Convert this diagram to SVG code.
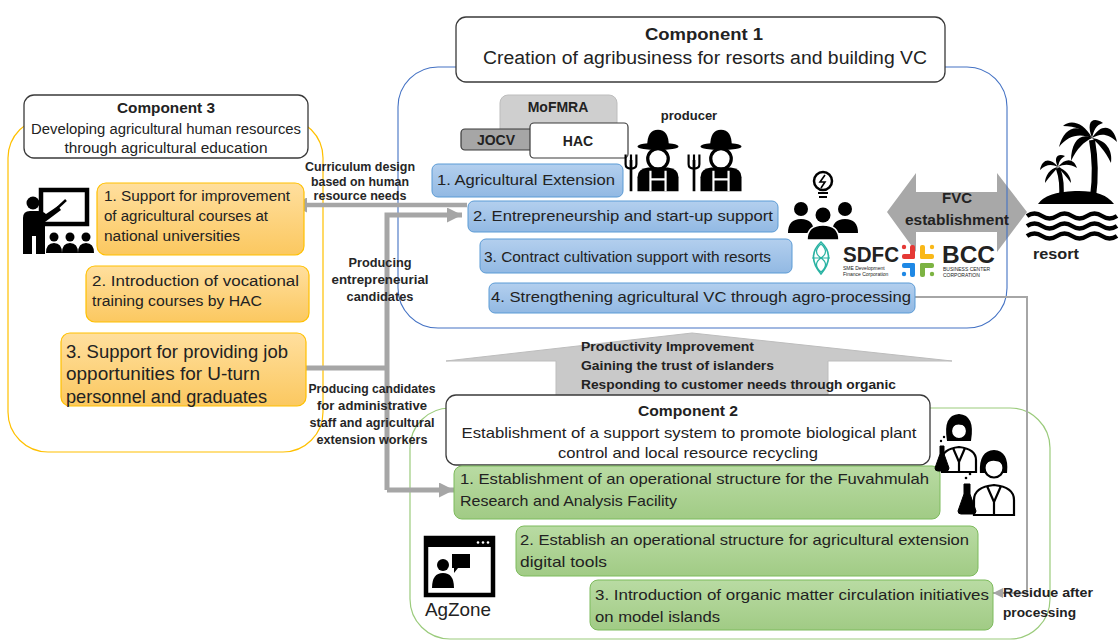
<svg xmlns="http://www.w3.org/2000/svg" width="1119" height="642" viewBox="0 0 1119 642">
  <defs>
    <linearGradient id="gOr" x1="0" y1="0" x2="0" y2="1">
      <stop offset="0" stop-color="#FFDF9E"/>
      <stop offset="1" stop-color="#FBC860"/>
    </linearGradient>
    <linearGradient id="gBl" x1="0" y1="0" x2="0" y2="1">
      <stop offset="0" stop-color="#B3CFEE"/>
      <stop offset="1" stop-color="#92B9E3"/>
    </linearGradient>
    <linearGradient id="gGr" x1="0" y1="0" x2="0" y2="1">
      <stop offset="0" stop-color="#B9DBA3"/>
      <stop offset="1" stop-color="#A1CB85"/>
    </linearGradient>
    <marker id="ahBig" markerUnits="userSpaceOnUse" markerWidth="15" markerHeight="15" viewBox="0 0 15 15" refX="15" refY="7.5" orient="auto">
      <path d="M0,0 L15,7.5 L0,15 Z" fill="#A6A6A6"/>
    </marker>
    <marker id="ahSmall" markerUnits="userSpaceOnUse" markerWidth="10" markerHeight="10" viewBox="0 0 10 10" refX="10" refY="5" orient="auto">
      <path d="M0,0 L10,5 L0,10 Z" fill="#A6A6A6"/>
    </marker>
    <!-- farmer with hat and pitchfork, centred on its own origin -->
    <g id="farmer">
      <path d="M-10,-14 Q-10,-29 0,-29 Q10,-29 10,-14 Z" fill="#000"/>
      <ellipse cx="0" cy="-13.5" rx="19" ry="3.5" fill="#000"/>
      <circle cx="0" cy="-2" r="9.5" fill="#fff" stroke="#000" stroke-width="3"/>
      <path d="M-19,28 V15 Q-19,7 -9,6 L9,6 Q19,7 19,15 V28 Z" fill="#000"/>
      <path d="M-7,9 V28 M7,9 V28 M-7,17 H7" stroke="#fff" stroke-width="2" fill="none"/>
      <path d="M-25,-1 V28" stroke="#000" stroke-width="2.5"/>
      <path d="M-30,-6 V3 Q-30,7 -25,7 Q-20,7 -20,3 V-6 M-25,-6 V7" stroke="#000" stroke-width="2" fill="none"/>
    </g>
  </defs>

  <style>
    text { font-family: "Liberation Sans", Arial, sans-serif; fill: #222; }
    .b { font-weight: bold; }
    .hdr { fill: #fff; stroke: #3A3A3A; stroke-width: 1.3; }
    .or { fill: url(#gOr); stroke: #FFC000; stroke-width: 1.2; }
    .bl { fill: url(#gBl); stroke: #5B9BD5; stroke-width: 1; }
    .gr { fill: url(#gGr); stroke: #7DBB5C; stroke-width: 1; }
    .conn { fill: none; stroke: #A6A6A6; }
    .lbl { font-weight: bold; font-size: 12.5px; text-anchor: middle; fill: #262626; }
  </style>

  <rect width="1119" height="642" fill="#fff"/>

  <!-- broad arrows behind the components -->
  <g id="big-arrows">
    <polygon points="556,402 556,361 446,361 692,333 952,361 828,361 828,402" fill="#C9C9C9" stroke="#BDBDBD" stroke-width="1"/>
    <polygon points="887,212 916,173 916,192 997,192 997,173 1027,212 997,252 997,232 916,232 916,252" fill="#A8A8A8"/>
  </g>

  <!-- component frames -->
  <g id="frames">
    <rect x="8" y="118" width="315" height="334" rx="40" fill="none" stroke="#FFC000" stroke-width="1.2"/>
    <rect x="398" y="67" width="609" height="261" rx="40" fill="none" stroke="#4472C4" stroke-width="1.1"/>
    <rect x="410" y="408" width="640" height="231" rx="40" fill="none" stroke="#9BCB7C" stroke-width="1.2"/>
  </g>

  <!-- connectors -->
  <g id="connectors">
    <path class="conn" d="M467,205 H292" stroke-width="4.5" marker-end="url(#ahBig)"/>
    <path class="conn" d="M305,368 H387" stroke-width="5"/>
    <path class="conn" d="M387,490 V215 H462" stroke-width="5" marker-end="url(#ahBig)"/>
    <path class="conn" d="M387,490 H454" stroke-width="5" marker-end="url(#ahBig)"/>
    <path class="conn" d="M915,297 H1027 V593 H993" stroke-width="2" marker-end="url(#ahSmall)"/>
  </g>

  <!-- connector labels -->
  <g id="connector-labels">
    <text class="lbl" x="360" y="171" textLength="110" lengthAdjust="spacingAndGlyphs">Curriculum design</text>
    <text class="lbl" x="360" y="186" textLength="98" lengthAdjust="spacingAndGlyphs">based on human</text>
    <text class="lbl" x="360" y="200" textLength="93" lengthAdjust="spacingAndGlyphs">resource needs</text>
    <text class="lbl" x="380" y="267" textLength="63" lengthAdjust="spacingAndGlyphs">Producing</text>
    <text class="lbl" x="380" y="284" textLength="97" lengthAdjust="spacingAndGlyphs">entrepreneurial</text>
    <text class="lbl" x="380" y="301" textLength="67" lengthAdjust="spacingAndGlyphs">candidates</text>
    <text class="lbl" x="372" y="393" textLength="127" lengthAdjust="spacingAndGlyphs">Producing candidates</text>
    <text class="lbl" x="372" y="410" textLength="110" lengthAdjust="spacingAndGlyphs">for administrative</text>
    <text class="lbl" x="372" y="427" textLength="125" lengthAdjust="spacingAndGlyphs">staff and agricultural</text>
    <text class="lbl" x="372" y="444" textLength="111" lengthAdjust="spacingAndGlyphs">extension workers</text>
    <text class="b" x="581" y="351" font-size="13.5" textLength="173" lengthAdjust="spacingAndGlyphs">Productivity Improvement</text>
    <text class="b" x="581" y="370" font-size="13.5" textLength="193" lengthAdjust="spacingAndGlyphs">Gaining the trust of islanders</text>
    <text class="b" x="581" y="389" font-size="13.5" textLength="315" lengthAdjust="spacingAndGlyphs">Responding to customer needs through organic</text>
    <text class="b" x="957" y="203" font-size="15" text-anchor="middle">FVC</text>
    <text class="b" x="957" y="225" font-size="15" text-anchor="middle" textLength="104" lengthAdjust="spacingAndGlyphs">establishment</text>
    <text class="b" x="1003" y="597" font-size="13.5" textLength="90" lengthAdjust="spacingAndGlyphs">Residue after</text>
    <text class="b" x="1003" y="617" font-size="13.5" textLength="73" lengthAdjust="spacingAndGlyphs">processing</text>
  </g>

  <!-- Component 3 -->
  <g id="component3">
    <rect class="hdr" x="24" y="95" width="284" height="63" rx="10"/>
    <text class="b" x="166" y="113" font-size="15" text-anchor="middle" textLength="98" lengthAdjust="spacingAndGlyphs">Component 3</text>
    <text x="166" y="134" font-size="14" text-anchor="middle" textLength="270" lengthAdjust="spacingAndGlyphs">Developing agricultural human resources</text>
    <text x="166" y="153" font-size="14" text-anchor="middle" textLength="203" lengthAdjust="spacingAndGlyphs">through agricultural education</text>
  </g>
  <g id="c3-item1">
    <rect class="or" x="97" y="183" width="207" height="72" rx="9"/>
    <text x="104" y="201" font-size="15.5" textLength="186" lengthAdjust="spacingAndGlyphs">1. Support for improvement</text>
    <text x="104" y="221" font-size="15.5" textLength="164" lengthAdjust="spacingAndGlyphs">of agricultural courses at</text>
    <text x="104" y="241" font-size="15.5" textLength="136" lengthAdjust="spacingAndGlyphs">national universities</text>
  </g>
  <g id="c3-item2">
    <rect class="or" x="86" y="266" width="223" height="56" rx="9"/>
    <text x="92" y="286" font-size="15.5" textLength="207" lengthAdjust="spacingAndGlyphs">2. Introduction of vocational</text>
    <text x="92" y="306" font-size="15.5" textLength="170" lengthAdjust="spacingAndGlyphs">training courses by HAC</text>
  </g>
  <g id="c3-item3">
    <rect class="or" x="61" y="333" width="245" height="73" rx="9"/>
    <text x="66" y="358" font-size="19" textLength="222" lengthAdjust="spacingAndGlyphs">3. Support for providing job</text>
    <text x="66" y="380" font-size="19" textLength="194" lengthAdjust="spacingAndGlyphs">opportunities for U-turn</text>
    <text x="66" y="403" font-size="19" textLength="201" lengthAdjust="spacingAndGlyphs">personnel and graduates</text>
  </g>
  <!-- teacher at a board with three students -->
  <g id="teacher-icon" fill="#000">
    <rect x="41" y="190" width="46" height="34" fill="none" stroke="#000" stroke-width="4.5"/>
    <circle cx="33" cy="203" r="6.5"/>
    <path d="M23,254 V218 Q23,211 30,211 L38,211 Q43,211 46,214 L58,206 L61,210 L45,222 V254 H36 V236 H32 V254 Z"/>
    <path d="M52,213 L66,200" stroke="#000" stroke-width="2.5"/>
    <circle cx="54" cy="237" r="4.5"/>
    <circle cx="70" cy="237" r="4.5"/>
    <circle cx="86" cy="237" r="4.5"/>
    <path d="M46,253 Q46,243 54,243 Q62,243 62,253 Z M62,253 Q62,243 70,243 Q78,243 78,253 Z M78,253 Q78,243 86,243 Q94,243 94,253 Z"/>
  </g>

  <!-- Component 1 -->
  <g id="component1">
    <rect class="hdr" x="456" y="17" width="489" height="65" rx="10"/>
    <text class="b" x="704" y="40" font-size="17" text-anchor="middle" textLength="118" lengthAdjust="spacingAndGlyphs">Component 1</text>
    <text x="705" y="64" font-size="18" text-anchor="middle" textLength="444" lengthAdjust="spacingAndGlyphs">Creation of agribusiness for resorts and building VC</text>
  </g>
  <g id="mofmra">
    <rect x="500" y="95" width="117" height="45" rx="8" fill="#CFCFCF" stroke="#BDBDBD" stroke-width="1"/>
    <text class="b" x="558" y="112" font-size="14" text-anchor="middle">MoFMRA</text>
  </g>
  <g id="jocv">
    <rect x="461" y="129" width="74" height="21" rx="4" fill="#A6A6A6" stroke="#3A3A3A" stroke-width="1.2"/>
    <text class="b" x="496" y="145" font-size="14" text-anchor="middle">JOCV</text>
  </g>
  <g id="hac">
    <rect x="530" y="123" width="98" height="35" rx="4" fill="#fff" stroke="#3A3A3A" stroke-width="1.2"/>
    <text class="b" x="578" y="146" font-size="14" text-anchor="middle">HAC</text>
  </g>
  <g id="producer">
    <text class="b" x="689" y="120" font-size="13" text-anchor="middle">producer</text>
    <use href="#farmer" transform="translate(658,161) scale(1.08)"/>
    <use href="#farmer" transform="translate(721,161) scale(1.08)"/>
  </g>
  <g id="c1-item1">
    <rect class="bl" x="432" y="164" width="191" height="33" rx="6"/>
    <text x="437" y="185" font-size="15" textLength="178" lengthAdjust="spacingAndGlyphs">1. Agricultural Extension</text>
  </g>
  <g id="c1-item2">
    <rect class="bl" x="468" y="201" width="310" height="31" rx="6"/>
    <text x="473" y="221" font-size="15" textLength="300" lengthAdjust="spacingAndGlyphs">2. Entrepreneurship and start-up support</text>
  </g>
  <g id="c1-item3">
    <rect class="bl" x="480" y="239" width="312" height="34" rx="6"/>
    <text x="484" y="262" font-size="15" textLength="287" lengthAdjust="spacingAndGlyphs">3. Contract cultivation support with resorts</text>
  </g>
  <g id="c1-item4">
    <rect class="bl" x="489" y="283" width="426" height="30" rx="6"/>
    <text x="491" y="302" font-size="15" textLength="420" lengthAdjust="spacingAndGlyphs">4. Strengthening agricultural VC through agro-processing</text>
  </g>

  <!-- group with idea bulb -->
  <g id="team-icon" fill="#000">
    <circle cx="823" cy="181" r="9" fill="none" stroke="#000" stroke-width="2.5"/>
    <path d="M818,193 H828 M819,197 H827" stroke="#000" stroke-width="2.2"/>
    <path d="M825,175 L820,182 H825 L821,188" fill="none" stroke="#000" stroke-width="1.6"/>
    <circle cx="801" cy="209" r="7"/>
    <circle cx="845" cy="209" r="7"/>
    <circle cx="823" cy="215" r="7.5"/>
    <path d="M788,233 Q788,219 801,219 Q814,219 814,233 Z M832,233 Q832,219 845,219 Q858,219 858,233 Z"/>
    <path d="M807,240 Q807,225 823,225 Q839,225 839,240 Z" stroke="#fff" stroke-width="1.5"/>
  </g>

  <!-- SDFC logo -->
  <g id="sdfc-logo">
    <path d="M821,242 Q836,256 821,274 Q806,256 821,242 Z" fill="none" stroke="#2BB3A3" stroke-width="1.6"/>
    <path d="M821,244 Q812,252 821,258 Q830,264 821,272 M821,244 Q830,252 821,258 Q812,264 821,272 M812,258 H830" fill="none" stroke="#2BB3A3" stroke-width="1.2"/>
    <text class="b" x="843" y="262" font-size="22" fill="#2B2B2B" textLength="56" lengthAdjust="spacingAndGlyphs">SDFC</text>
    <text x="843" y="270" font-size="5" fill="#444">SME Development</text>
    <text x="843" y="276" font-size="5" fill="#444">Finance Corporation</text>
  </g>

  <!-- BCC logo -->
  <g id="bcc-logo">
    <rect x="902" y="254" width="13" height="5" rx="2" fill="#E53935"/>
    <rect x="910" y="245" width="5" height="14" rx="2" fill="#E53935"/>
    <rect x="920" y="245" width="5" height="14" rx="2" fill="#F9B818"/>
    <rect x="920" y="254" width="14" height="5" rx="2" fill="#F9B818"/>
    <rect x="902" y="263" width="13" height="5" rx="2" fill="#1E88E5"/>
    <rect x="910" y="263" width="5" height="14" rx="2" fill="#1E88E5"/>
    <rect x="920" y="263" width="5" height="14" rx="2" fill="#7CB342"/>
    <rect x="920" y="263" width="14" height="5" rx="2" fill="#7CB342"/>
    <circle cx="904" cy="247" r="2.2" fill="#E53935"/>
    <circle cx="932" cy="247" r="2.2" fill="#F9B818"/>
    <circle cx="904" cy="274" r="2.2" fill="#1E88E5"/>
    <circle cx="932" cy="274" r="2.2" fill="#7CB342"/>
    <text class="b" x="942" y="263" font-size="24" fill="#333" textLength="53" lengthAdjust="spacingAndGlyphs">BCC</text>
    <text x="943" y="271" font-size="5" fill="#777">BUSINESS CENTER</text>
    <text x="943" y="277" font-size="5" fill="#777">CORPORATION</text>
  </g>

  <!-- resort island with two palms -->
  <g id="resort">
    <path d="M1092,140 Q1097,168 1093,197" fill="none" stroke="#000" stroke-width="6"/>
    <path d="M1058,168 Q1063,182 1061,199" fill="none" stroke="#000" stroke-width="4.5"/>
    <g fill="#000">
      <path d="M1092,138 C1080,122 1064,126 1059,147 C1068,135 1080,133 1092,138 Z"/>
      <path d="M1092,138 C1080,132 1071,142 1071,161 C1077,148 1084,142 1092,138 Z"/>
      <path d="M1092,138 C1086,122 1092,116 1103,123 C1096,125 1094,130 1092,138 Z"/>
      <path d="M1092,138 C1102,122 1114,126 1117,142 C1108,133 1100,133 1092,138 Z"/>
      <path d="M1092,138 C1106,140 1113,150 1111,163 C1105,150 1098,144 1092,138 Z"/>
      <path d="M1092,138 C1084,122 1070,119 1063,126 C1076,126 1084,130 1092,138 Z"/>
      <path d="M1058,167 C1050,157 1042,159 1040,170 C1046,164 1052,164 1058,167 Z"/>
      <path d="M1058,167 C1050,168 1045,176 1045,183 C1050,176 1054,172 1058,167 Z"/>
      <path d="M1058,167 C1066,157 1074,159 1077,168 C1070,164 1064,164 1058,167 Z"/>
      <path d="M1058,167 C1066,170 1071,176 1071,183 C1066,176 1062,172 1058,167 Z"/>
      <path d="M1058,167 C1053,157 1058,153 1065,156 C1060,159 1059,162 1058,167 Z"/>
      <path d="M1038,204 Q1046,192 1075,191 Q1104,190 1114,204 Z"/>
    </g>
    <path d="M1027,216 q7.5,-5 15,0 t15,0 t15,0 t15,0 t15,0 t15,0 M1027,226 q7.5,-5 15,0 t15,0 t15,0 t15,0 t15,0 t15,0 M1027,236 q7.5,-5 15,0 t15,0 t15,0 t15,0 t15,0 t15,0" fill="none" stroke="#000" stroke-width="4.5"/>
    <text class="b" x="1033" y="259" font-size="15" textLength="46" lengthAdjust="spacingAndGlyphs">resort</text>
  </g>

  <!-- Component 2 -->
  <g id="component2">
    <rect class="hdr" x="446" y="395" width="484" height="70" rx="10"/>
    <text class="b" x="688" y="416" font-size="15" text-anchor="middle" textLength="100" lengthAdjust="spacingAndGlyphs">Component 2</text>
    <text x="689" y="438" font-size="15" text-anchor="middle" textLength="455" lengthAdjust="spacingAndGlyphs">Establishment of a support system to promote biological plant</text>
    <text x="688" y="458" font-size="15" text-anchor="middle" textLength="260" lengthAdjust="spacingAndGlyphs">control and local resource recycling</text>
  </g>
  <g id="c2-item1">
    <rect class="gr" x="454" y="466" width="486" height="53" rx="8"/>
    <text x="460" y="484" font-size="15" textLength="469" lengthAdjust="spacingAndGlyphs">1. Establishment of an operational structure for the Fuvahmulah</text>
    <text x="460" y="506" font-size="15" textLength="217" lengthAdjust="spacingAndGlyphs">Research and Analysis Facility</text>
  </g>
  <g id="c2-item2">
    <rect class="gr" x="516" y="526" width="462" height="50" rx="8"/>
    <text x="520" y="545" font-size="15" textLength="449" lengthAdjust="spacingAndGlyphs">2. Establish an operational structure for agricultural extension</text>
    <text x="520" y="567" font-size="15" textLength="87" lengthAdjust="spacingAndGlyphs">digital tools</text>
  </g>
  <g id="c2-item3">
    <rect class="gr" x="590" y="580" width="403" height="50" rx="8"/>
    <text x="595" y="600" font-size="15" textLength="394" lengthAdjust="spacingAndGlyphs">3. Introduction of organic matter circulation initiatives</text>
    <text x="595" y="622" font-size="15" textLength="125" lengthAdjust="spacingAndGlyphs">on model islands</text>
  </g>

  <!-- AgZone app window -->
  <g id="agzone">
    <rect x="426" y="538" width="67" height="57" fill="#fff" stroke="#000" stroke-width="4.5"/>
    <rect x="426" y="538" width="67" height="9" fill="#000"/>
    <circle cx="478" cy="542.5" r="1.3" fill="#fff"/>
    <circle cx="483" cy="542.5" r="1.3" fill="#fff"/>
    <circle cx="488" cy="542.5" r="1.3" fill="#fff"/>
    <circle cx="443" cy="565" r="6" fill="#000"/>
    <path d="M432,588 Q432,573 443,573 Q454,573 454,588 Z" fill="#000"/>
    <path d="M452,554 H470 V568 H458 L454,573 V568 H452 Z" fill="#000"/>
    <text x="425" y="616" font-size="19" textLength="66" lengthAdjust="spacingAndGlyphs">AgZone</text>
  </g>

  <!-- two researchers with flasks -->
  <g id="scientists" stroke="#000" stroke-width="2.2">
    <path d="M948,440 Q944,416 959,415 Q974,416 970,440 Z" fill="#000"/>
    <circle cx="959" cy="431" r="8" fill="#fff"/>
    <path d="M950,428 Q955,420 968,426" fill="none"/>
    <path d="M942,472 V460 Q942,449 959,447 Q976,449 976,460 V472 Z" fill="#fff"/>
    <path d="M953,448 L959,462 L965,448 M959,462 V472" fill="none"/>
    <path d="M940,446 V454 L935,468 Q935,471 938,471 H946 Q949,471 949,468 L944,454 V446 Z" fill="#000" stroke-width="1"/>
    <circle cx="941" cy="441" r="1.2" fill="#000" stroke="none"/>
    <circle cx="944" cy="437" r="1.2" fill="#000" stroke="none"/>
    <path d="M981,472 Q980,452 994,451 Q1008,452 1006,472 Z" fill="#000"/>
    <circle cx="994" cy="468" r="9.5" fill="#fff"/>
    <path d="M984,464 Q992,456 1004,463" fill="none"/>
    <path d="M974,515 V500 Q974,487 994,485 Q1014,487 1014,500 V515 Z" fill="#fff"/>
    <path d="M987,486 L994,502 L1001,486 M994,502 V515" fill="none"/>
    <path d="M964,484 V494 L958,511 Q958,514 961,514 H973 Q976,514 976,511 L970,494 V484 Z" fill="#000" stroke-width="1"/>
    <circle cx="966" cy="478" r="1.3" fill="#000" stroke="none"/>
    <circle cx="970" cy="474" r="1.3" fill="#000" stroke="none"/>
  </g>
</svg>
